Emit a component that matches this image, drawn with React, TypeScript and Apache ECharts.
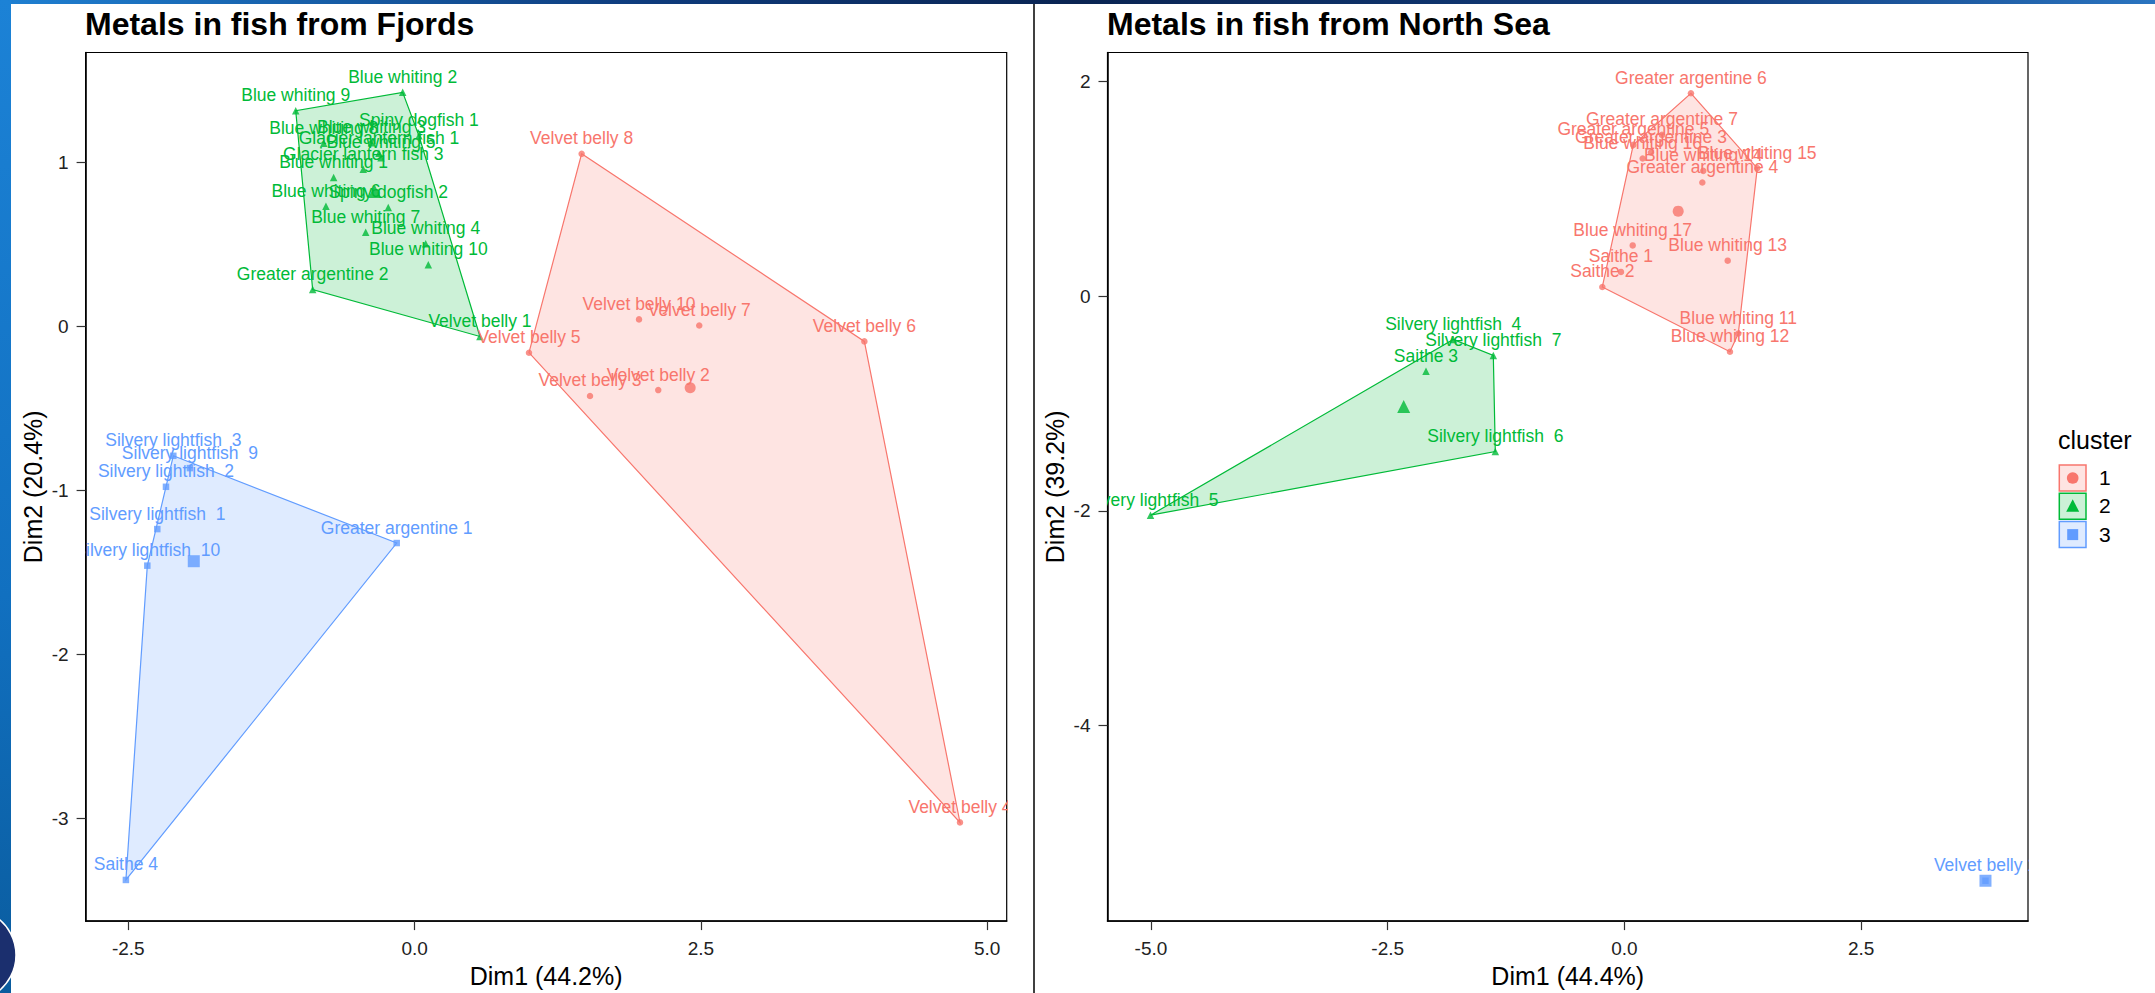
import React, { useEffect, useRef } from 'react';
import * as echarts from 'echarts';

const FONT = '"Liberation Sans", Arial, Helvetica, sans-serif';
const COL1 = '#F8766D';
const COL2 = '#00BA38';
const COL3 = '#619CFF';

// ---------- Fjords ----------
const FJ_C1_NAMES = ['Velvet belly 8', 'Velvet belly 10', 'Velvet belly 7', 'Velvet belly 6', 'Velvet belly 5', 'Velvet belly 3', 'Velvet belly 2', 'Velvet belly 4'];
const FJ_C1_X = [1.459, 1.96, 2.486, 3.928, 0.999, 1.532, 2.128, 4.763];
const FJ_C1_Y = [1.053, 0.043, 0.006, -0.091, -0.16, -0.424, -0.388, -3.025];

const FJ_C2_NAMES = ['Blue whiting 9', 'Blue whiting 2', 'Spiny dogfish 1', 'Blue whiting 8', 'Blue whiting 3', 'Glacier lantern fish 1', 'Blue whiting 5', 'Glacier lantern fish 3', 'Blue whiting 1', 'Blue whiting 6', 'Spiny dogfish 2', 'Blue whiting 7', 'Blue whiting 4', 'Blue whiting 10', 'Greater argentine 2', 'Velvet belly 1'];
const FJ_C2_X = [-1.038, -0.104, 0.038, -0.793, -0.376, -0.311, -0.293, -0.448, -0.707, -0.774, -0.23, -0.427, 0.097, 0.12, -0.89, 0.571];
const FJ_C2_Y = [1.316, 1.428, 1.163, 1.118, 1.121, 1.056, 1.029, 0.959, 0.908, 0.733, 0.726, 0.574, 0.505, 0.377, 0.225, -0.061];

const FJ_C3_NAMES = ['Silvery lightfish  3', 'Silvery lightfish  9', 'Silvery lightfish  2', 'Silvery lightfish  1', 'Silvery lightfish  10', 'Greater argentine 1', 'Saithe 4'];
const FJ_C3_X = [-2.107, -1.962, -2.171, -2.247, -2.334, -0.156, -2.521];
const FJ_C3_Y = [-0.789, -0.864, -0.978, -1.236, -1.459, -1.321, -3.376];

// ---------- North Sea ----------
const NS_C1_NAMES = ['Greater argentine 6', 'Greater argentine 7', 'Greater argentine 5', 'Greater argentine 3', 'Blue whiting 16', 'Blue whiting 14', 'Blue whiting 15', 'Greater argentine 4', 'Blue whiting 17', 'Blue whiting 13', 'Saithe 1', 'Saithe 2', 'Blue whiting 11', 'Blue whiting 12'];
const NS_C1_X = [0.702, 0.396, 0.093, 0.28, 0.192, 0.832, 1.402, 0.822, 0.087, 1.09, -0.037, -0.234, 1.202, 1.114];
const NS_C1_Y = [1.892, 1.504, 1.411, 1.34, 1.284, 1.169, 1.194, 1.06, 0.474, 0.332, 0.227, 0.087, -0.347, -0.517];

const NS_C2_NAMES = ['Silvery lightfish  4', 'Silvery lightfish  7', 'Saithe 3', 'Silvery lightfish  6', 'Silvery lightfish  5'];
const NS_C2_X = [-1.808, -1.385, -2.096, -1.364, -5.005];
const NS_C2_Y = [-0.403, -0.552, -0.698, -1.447, -2.04];

const NS_C3_NAMES = ['Velvet belly 1'];
const NS_C3_X = [3.812];
const NS_C3_Y = [-5.447];

// ---------- axes ----------
const FJ_X_TICKS = [-2.5, 0, 2.5, 5];
const FJ_Y_TICKS = [-3, -2, -1, 0, 1];
const NS_X_TICKS = [-5, -2.5, 0, 2.5];
const NS_Y_TICKS = [-4, -2, 0, 2];
const FJ_X_RANGE = [-2.873, 5.171];
const FJ_Y_RANGE = [-3.627, 1.671];
const NS_X_RANGE = [-5.459, 4.261];
const NS_Y_RANGE = [-5.823, 2.272];

const TITLES = ['Metals in fish from Fjords', 'Metals in fish from North Sea'];
const X_NAMES = ['Dim1 (44.2%)', 'Dim1 (44.4%)'];
const Y_NAMES = ['Dim2 (20.4%)', 'Dim2 (39.2%)'];
const LEGEND_TITLE = 'cluster';
const LEGEND_LABELS = ['1', '2', '3'];

function rgba(hex: string, a: number) {
  const n = parseInt(hex.slice(1), 16);
  return `rgba(${(n >> 16) & 255},${(n >> 8) & 255},${n & 255},${a})`;
}

function convexHull(pts: number[][]) {
  const p = pts.slice().sort((a, b) => (a[0] - b[0]) || (a[1] - b[1]));
  if (p.length < 3) return p;
  const cross = (o: number[], a: number[], b: number[]) => (a[0] - o[0]) * (b[1] - o[1]) - (a[1] - o[1]) * (b[0] - o[0]);
  const lower: number[][] = [];
  for (const q of p) {
    while (lower.length >= 2 && cross(lower[lower.length - 2], lower[lower.length - 1], q) <= 0) lower.pop();
    lower.push(q);
  }
  const upper: number[][] = [];
  for (let i = p.length - 1; i >= 0; i--) {
    const q = p[i];
    while (upper.length >= 2 && cross(upper[upper.length - 2], upper[upper.length - 1], q) <= 0) upper.pop();
    upper.push(q);
  }
  upper.pop();
  lower.pop();
  return lower.concat(upper);
}

const SYMBOLS = ['circle', 'triangle', 'rect'];
const SMALL = [6.5, 7.5, 6.5];
const BIG = [11, 13, 12];

function clusterSeries(axis: number, names: string[], xs: number[], ys: number[], color: string, k: number) {
  const pts = xs.map((x, i) => [x, ys[i]]);
  const out: any[] = [];
  if (pts.length >= 3) {
    const hull = convexHull(pts);
    out.push({
      type: 'custom',
      xAxisIndex: axis,
      yAxisIndex: axis,
      clip: true,
      silent: true,
      z: 1,
      data: [pts[0]],
      renderItem: (_p: any, api: any) => ({
        type: 'polygon',
        shape: { points: hull.map((h) => api.coord(h)) },
        style: { fill: rgba(color, 0.2), stroke: color, lineWidth: 1.2 },
      }),
    });
  }
  out.push({
    type: 'scatter',
    xAxisIndex: axis,
    yAxisIndex: axis,
    silent: true,
    z: 3,
    symbol: SYMBOLS[k],
    symbolSize: SMALL[k],
    itemStyle: { color },
    data: pts,
  });
  const mx = xs.reduce((a, b) => a + b, 0) / xs.length;
  const my = ys.reduce((a, b) => a + b, 0) / ys.length;
  out.push({
    type: 'scatter',
    xAxisIndex: axis,
    yAxisIndex: axis,
    silent: true,
    z: 3,
    symbol: SYMBOLS[k],
    symbolSize: BIG[k],
    itemStyle: { color },
    data: [[mx, my]],
  });
  out.push({
    type: 'custom',
    xAxisIndex: axis,
    yAxisIndex: axis,
    clip: true,
    silent: true,
    z: 4,
    data: pts,
    renderItem: (params: any, api: any) => {
      const i = params.dataIndex;
      const c = api.coord([xs[i], ys[i]]);
      return {
        type: 'text',
        x: c[0],
        y: c[1] - 15.5,
        style: {
          text: names[i],
          fill: color,
          fontSize: 17.5,
          fontFamily: FONT,
          align: 'center',
          verticalAlign: 'middle',
        },
      };
    },
  });
  return out;
}

function xAxis(grid: number, range: number[], ticks: number[], name: string) {
  return {
    type: 'value',
    gridIndex: grid,
    min: range[0],
    max: range[1],
    name,
    nameLocation: 'middle',
    nameGap: 41,
    nameTextStyle: { fontSize: 25, color: '#000', fontFamily: FONT },
    axisLine: { show: true, onZero: false, lineStyle: { color: '#000', width: 1.5 } },
    axisTick: { show: true, length: 9, customValues: ticks, lineStyle: { color: '#333', width: 1.2 } },
    axisLabel: { customValues: ticks, formatter: (v: number) => Number(v).toFixed(1), fontSize: 19, color: '#222', margin: 18, fontFamily: FONT },
    splitLine: { show: false },
  };
}

function yAxis(grid: number, range: number[], ticks: number[], name: string) {
  return {
    type: 'value',
    gridIndex: grid,
    min: range[0],
    max: range[1],
    name,
    nameLocation: 'middle',
    nameGap: 40,
    nameTextStyle: { fontSize: 25, color: '#000', fontFamily: FONT },
    axisLine: { show: true, onZero: false, lineStyle: { color: '#000', width: 1.5 } },
    axisTick: { show: true, length: 9, customValues: ticks, lineStyle: { color: '#333', width: 1.2 } },
    axisLabel: { customValues: ticks, formatter: (v: number) => String(Math.round(v)), fontSize: 19, color: '#222', margin: 17, fontFamily: FONT },
    splitLine: { show: false },
  };
}

function legendGraphics() {
  const cols = [COL1, COL2, COL3];
  const els: any[] = [
    { type: 'text', left: 2058, top: 427, style: { text: LEGEND_TITLE, fontSize: 25, fontFamily: FONT, fill: '#000' } },
  ];
  cols.forEach((c, i) => {
    const y0 = 465 + i * 28.3;
    const cx = 2072.7;
    const cy = y0 + 13;
    els.push({ type: 'rect', shape: { x: 2059.3, y: y0, width: 26.7, height: 26 }, style: { fill: rgba(c, 0.2), stroke: c, lineWidth: 1.5 } });
    if (i === 0) els.push({ type: 'circle', shape: { cx, cy, r: 5.8 }, style: { fill: c } });
    if (i === 1) els.push({ type: 'polygon', shape: { points: [[cx, cy - 7], [cx - 6.5, cy + 5.5], [cx + 6.5, cy + 5.5]] }, style: { fill: c } });
    if (i === 2) els.push({ type: 'rect', shape: { x: cx - 5.5, y: cy - 5.5, width: 11, height: 11 }, style: { fill: c } });
    els.push({ type: 'text', left: 2099, top: cy - 11, style: { text: LEGEND_LABELS[i], fontSize: 21, fontFamily: FONT, fill: '#000' } });
  });
  return els;
}

function decoGraphics() {
  return [
    {
      type: 'rect', shape: { x: 0, y: 0, width: 2155, height: 4 }, silent: true,
      style: { fill: new echarts.graphic.LinearGradient(0, 0, 1, 0, [
        { offset: 0, color: '#1f80d2' }, { offset: 0.3, color: '#0e3b7c' }, { offset: 0.5, color: '#0a2452' }, { offset: 0.8, color: '#123f80' }, { offset: 1, color: '#2a74c0' },
      ]) },
    },
    {
      type: 'rect', shape: { x: 0, y: 0, width: 11, height: 993 }, silent: true,
      style: { fill: new echarts.graphic.LinearGradient(0, 0, 0, 1, [
        { offset: 0, color: '#1c82d6' }, { offset: 0.6, color: '#1170c0' }, { offset: 1, color: '#0a5c9e' },
      ]) },
    },
    { type: 'circle', shape: { cx: -30, cy: 955, r: 46 }, silent: true, style: { fill: '#1b2f6e', stroke: '#ffffff', lineWidth: 1.5 } },
    { type: 'line', shape: { x1: 1034, y1: 4, x2: 1034, y2: 993 }, silent: true, style: { stroke: '#000', lineWidth: 1.5 } },
  ];
}

export default function App() {
  const ref = useRef<HTMLDivElement>(null);
  useEffect(() => {
    if (!ref.current) return;
    const chart = echarts.init(ref.current, undefined, { renderer: 'svg' });
    const series = [
      ...clusterSeries(0, FJ_C1_NAMES, FJ_C1_X, FJ_C1_Y, COL1, 0),
      ...clusterSeries(0, FJ_C2_NAMES, FJ_C2_X, FJ_C2_Y, COL2, 1),
      ...clusterSeries(0, FJ_C3_NAMES, FJ_C3_X, FJ_C3_Y, COL3, 2),
      ...clusterSeries(1, NS_C1_NAMES, NS_C1_X, NS_C1_Y, COL1, 0),
      ...clusterSeries(1, NS_C2_NAMES, NS_C2_X, NS_C2_Y, COL2, 1),
      ...clusterSeries(1, NS_C3_NAMES, NS_C3_X, NS_C3_Y, COL3, 2),
    ];
    chart.setOption({
      animation: false,
      backgroundColor: '#ffffff',
      title: [
        { text: TITLES[0], left: 85, top: 8, padding: 0, textStyle: { fontSize: 32, fontWeight: 'bold', color: '#000', fontFamily: FONT } },
        { text: TITLES[1], left: 1107, top: 8, padding: 0, textStyle: { fontSize: 32, fontWeight: 'bold', color: '#000', fontFamily: FONT } },
      ],
      grid: [
        { left: 85.6, top: 52.5, width: 921.1, height: 870.2, show: true, borderColor: '#000', borderWidth: 1.2, backgroundColor: 'transparent' },
        { left: 1107.5, top: 52.5, width: 920.5, height: 870.2, show: true, borderColor: '#000', borderWidth: 1.2, backgroundColor: 'transparent' },
      ],
      xAxis: [xAxis(0, FJ_X_RANGE, FJ_X_TICKS, X_NAMES[0]), xAxis(1, NS_X_RANGE, NS_X_TICKS, X_NAMES[1])],
      yAxis: [yAxis(0, FJ_Y_RANGE, FJ_Y_TICKS, Y_NAMES[0]), yAxis(1, NS_Y_RANGE, NS_Y_TICKS, Y_NAMES[1])],
      graphic: [...decoGraphics(), ...legendGraphics()],
      series,
    });
    return () => chart.dispose();
  }, []);
  return <div ref={ref} style={{ position: 'fixed', left: 0, top: 0, width: 2155, height: 993, background: '#fff' }} />;
}
